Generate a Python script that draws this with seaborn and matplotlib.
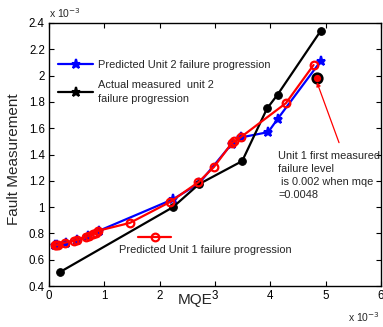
import matplotlib
matplotlib.use("Agg")
import matplotlib.pyplot as plt
import pandas as pd
import seaborn as sns
from matplotlib.lines import Line2D

# values in units of 1e-3
actual_u2_mqe = [0.19, 2.24, 2.71, 3.49, 3.94, 4.13, 4.91]
actual_u2_fault = [0.505, 1.00, 1.175, 1.35, 1.75, 1.855, 2.34]

pred_u2_mqe = [0.10, 0.15, 0.30, 0.50, 0.70, 0.90, 2.24, 2.71, 3.30, 3.47, 3.96, 4.13, 4.91]
pred_u2_fault = [0.71, 0.715, 0.73, 0.75, 0.78, 0.82, 1.06, 1.18, 1.48, 1.53, 1.57, 1.67, 2.11]

pred_u1_mqe = [0.10, 0.13, 0.17, 0.28, 0.46, 0.51, 0.67, 0.72, 0.79, 0.84, 0.88,
               1.46, 2.19, 2.70, 2.98, 3.30, 3.35, 3.46, 4.28, 4.78]
pred_u1_fault = [0.71, 0.71, 0.715, 0.73, 0.745, 0.75, 0.775, 0.78, 0.795, 0.80, 0.82,
                 0.88, 1.04, 1.19, 1.305, 1.485, 1.50, 1.53, 1.79, 2.08]

first_fail_mqe = [4.84]
first_fail_fault = [1.98]

x_ticks = [0, 1, 2, 3, 4, 5, 6]
y_ticks = [0.4, 0.6, 0.8, 1.0, 1.2, 1.4, 1.6, 1.8, 2.0, 2.2, 2.4]
y_tick_labels = ["0.4", "0.6", "0.8", "1", "1.2", "1.4", "1.6", "1.8", "2", "2.2", "2.4"]

sns.set_style("ticks")
plt.rcParams["font.family"] = ["Liberation Sans", "DejaVu Sans"]

TXT = 7.9

fig = plt.figure(figsize=(3.83, 3.27), dpi=100)
ax = fig.add_axes([0.128, 0.125, 0.867, 0.805])

u2 = pd.DataFrame({"mqe": pred_u2_mqe, "fault": pred_u2_fault})
act = pd.DataFrame({"mqe": actual_u2_mqe, "fault": actual_u2_fault})
u1 = pd.DataFrame({"mqe": pred_u1_mqe, "fault": pred_u1_fault})

sns.lineplot(data=u2, x="mqe", y="fault", sort=False, estimator=None, ax=ax,
             color="#0000ff", lw=1.6, marker="*", markersize=6.5,
             markeredgecolor="#0000ff", markeredgewidth=1.5)
sns.lineplot(data=act, x="mqe", y="fault", sort=False, estimator=None, ax=ax,
             color="black", lw=1.6, marker="o", markersize=5.5,
             markeredgecolor="black")
sns.lineplot(data=u1, x="mqe", y="fault", sort=False, estimator=None, ax=ax,
             color="#ff0000", lw=1.6, marker="o", markersize=5.5,
             markerfacecolor="none", markeredgecolor="#ff0000", markeredgewidth=1.6)
ax.plot(first_fail_mqe, first_fail_fault, "o", color="#ff0000",
        markeredgecolor="black", markersize=7, markeredgewidth=1.8)

ax.annotate("", xy=(first_fail_mqe[0], first_fail_fault[0] - 0.03),
            xytext=(5.24, 1.49),
            arrowprops=dict(arrowstyle="-|>", color="#ff0000", lw=0.9,
                            mutation_scale=6, shrinkA=0, shrinkB=0))
ax.text(4.14, 1.43, "Unit 1 first measured\nfailure level\n is 0.002 when mqe\n=0.0048",
        fontsize=TXT, va="top", ha="left", linespacing=1.4)

# legend entries drawn like the original
handles = [Line2D([], [], color="#0000ff", lw=1.6, marker="*", markersize=6.5,
                  markeredgewidth=1.5),
           Line2D([], [], color="black", lw=1.6, marker="*", markersize=6.5,
                  markeredgewidth=1.5)]
leg = ax.legend(handles, ["Predicted Unit 2 failure progression",
                          "Actual measured  unit 2\nfailure progression"],
                loc="upper left", bbox_to_anchor=(0.027, 0.858), frameon=False,
                fontsize=TXT, handlelength=3.2, handletextpad=0.45, labelspacing=0.92,
                borderaxespad=0, borderpad=0)
for t in leg.get_texts():
    t.set_linespacing(1.4)
ax.add_line(Line2D([0.269, 0.318, 0.368], [0.187, 0.187, 0.187], transform=ax.transAxes,
                   color="#ff0000", lw=1.6, marker="o", markersize=5.5,
                   markevery=[1], markerfacecolor="none", markeredgewidth=1.6))
ax.text(0.21, 0.137, "Predicted Unit 1 failure progression", transform=ax.transAxes,
        fontsize=TXT, va="center", ha="left")

ax.set_xlim(0, 6)
ax.set_ylim(0.4, 2.4)
ax.set_xticks(x_ticks)
ax.set_xticklabels([str(t) for t in x_ticks])
ax.set_yticks(y_ticks)
ax.set_yticklabels(y_tick_labels)
ax.tick_params(direction="in", top=True, right=True, length=3.5, width=0.8,
               labelsize=8.3, colors="black", pad=3)
for s in ax.spines.values():
    s.set_linewidth(1.0)
    s.set_color("black")

ax.set_xlabel("MQE", fontsize=11)
ax.set_ylabel("Fault Measurement", fontsize=11)
ax.xaxis.set_label_coords(0.44, -0.026)
ax.yaxis.set_label_coords(-0.085, 0.483)

ax.text(0.0, 1.01, "x 10$^{-3}$", transform=ax.transAxes, fontsize=7.5, ha="left", va="bottom")
ax.text(0.9, -0.09, "x 10$^{-3}$", transform=ax.transAxes, fontsize=7.5, ha="left", va="top")

fig.savefig("out.png", dpi=100, facecolor="white")
